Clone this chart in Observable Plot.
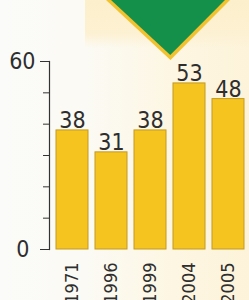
<!DOCTYPE html>
<html>
<head>
<meta charset="utf-8">
<script src="https://cdn.jsdelivr.net/npm/d3@7"></script>
<script src="https://cdn.jsdelivr.net/npm/@observablehq/plot@0.6"></script>
<style>
  html, body { margin: 0; padding: 0; }
  body {
    width: 249px; height: 300px; overflow: hidden; position: relative;
    background: linear-gradient(90deg, #fbfbf9 0%, #fbfaf4 35%, #fdf6e2 70%, #fdf3da 100%);
  }
  #cream {
    position: absolute; left: 85px; top: 0; width: 164px; height: 48px;
    background: linear-gradient(180deg, #fcefcb 0%, #fdf1d3 70%, rgba(253,246,226,0) 100%);
  }
  #triOuter {
    position: absolute; left: 106px; top: 0; width: 124px; height: 60px;
    background: #f2c12e;
    clip-path: polygon(0 0, 100% 0, 52% 100%);
  }
  #triInner {
    position: absolute; left: 111px; top: 0; width: 114px; height: 55px;
    background: #14904a;
    clip-path: polygon(0 0, 100% 0, 52% 100%);
  }
  #chart { position: absolute; left: 0; top: 0; }
</style>
</head>
<body>
<div id="cream"></div>
<div id="triOuter"></div>
<div id="triInner"></div>
<div id="chart"></div>
<script>
const years = ["1971", "1996", "1999", "2004", "2005"];
const values = [38, 31, 38, 53, 48];
const minorTicks = [10, 20, 30, 40, 50];
const topTick = [60];
const bottomTick = [0];

const data = years.map((y, i) => ({year: y, value: values[i]}));
const font = "'Liberation Sans Narrow', 'DejaVu Sans Condensed', 'Roboto Condensed', sans-serif";

const chart = Plot.plot({
  width: 249,
  height: 300,
  marginTop: 61,
  marginBottom: 51,
  marginLeft: 49,
  marginRight: 0,
  style: {background: "transparent", fontFamily: font, color: "#333"},
  x: {domain: years, range: [49, 251], paddingInner: 0.19, paddingOuter: 0.15, label: null},
  y: {domain: [0, 60], label: null},
  marks: [
    Plot.barY(data, {x: "year", y: "value", fill: "#f6c41f", stroke: "#c49a22", strokeWidth: 1}),
    Plot.text(data, {x: "year", y: "value", text: d => String(d.value), lineAnchor: "bottom", dy: -2,
      fontSize: 23, fill: "#2e2e2e"}),
    Plot.axisY({ticks: minorTicks, tickFormat: () => "", tickSize: 6, stroke: "#333", label: null}),
    Plot.axisY({ticks: topTick, tickSize: 9, tickPadding: 5,
      fontSize: 23, stroke: "#333", color: "#2e2e2e", label: null}),
    Plot.axisY({ticks: bottomTick, tickSize: 9, tickPadding: 11,
      fontSize: 23, stroke: "#333", color: "#2e2e2e", label: null}),
    Plot.frame({anchor: "left", stroke: "#333", strokeWidth: 1.2}),
    Plot.axisX({tickRotate: -90, tickSize: 0, tickPadding: 13, fontSize: 18, color: "#2e2e2e", label: null})
  ]
});
document.getElementById("chart").appendChild(chart);
</script>
</body>
</html>
